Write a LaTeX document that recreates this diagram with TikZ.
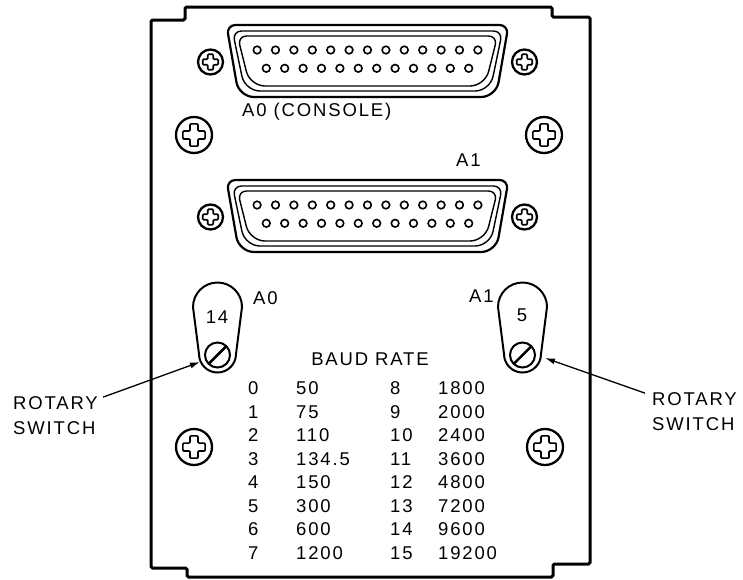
\documentclass[tikz,border=0pt]{standalone}
\usepackage{fontspec}
\setmainfont{Liberation Sans}[LetterSpace=10]
\usetikzlibrary{arrows.meta}

\tikzset{
  panel/.style={line width=3pt, rounded corners=1.5pt},
  shellout/.style={line width=2.2pt},
  shell/.style={line width=1.4pt},
  pin/.style={line width=1.6pt},
  screwhead/.style={line width=2.3pt},
  slot/.style={line width=1.6pt, rounded corners=1pt},
  lbl/.style={font=\fontsize{18.5}{20}\selectfont, inner sep=0pt},
  pointer/.style={line width=1.3pt, -{Latex[length=10pt,width=6pt]}},
}

% x, y, radius of a cross head screw
\newcommand\crossscrew[3]{%
  \begin{scope}[shift={(#1,#2)}, scale=#3]
    \draw[screwhead] (0,0) circle (1);
    \draw[slot] (0.22,-0.62) -- (0.22,-0.22) -- (0.62,-0.22) -- (0.62,0.22) -- (0.22,0.22) -- (0.22,0.62)
      -- (-0.22,0.62) -- (-0.22,0.22) -- (-0.62,0.22) -- (-0.62,-0.22) -- (-0.22,-0.22) -- (-0.22,-0.62) -- cycle;
  \end{scope}}

% inset of the D shell
\newcommand\dshell[1]{%
  \draw[rounded corners=9pt] ({226.5+#1},{25+#1}) -- ({508.5-#1},{25+#1})
    [rounded corners=15pt] -- ({496-#1},{97-#1}) -- ({239+#1},{97-#1}) [rounded corners=9pt] -- cycle;}

% centre x of a rotary switch
\newcommand\rotsw[1]{%
  \draw[line width=2pt] ({#1-24.5},307) arc[start angle=180, end angle=360, radius=24.5]
    -- ({#1+18.5},354) arc[start angle=0, end angle=180, radius=18.5] -- cycle;
  \draw[line width=2pt] (#1,355) circle (12.5);
  \draw[line width=2.5pt] ({#1-8.5},363.5) -- ({#1+8.5},346.5);}

\begin{document}
\begin{tikzpicture}[x=1pt, y=-1pt]
%\draw[help lines, color=gray!30] (0,0) grid[step=50] (743,579);
\useasboundingbox (0,0) rectangle (743,579);

% panel outline
\draw[panel] (185,7) -- (552,7) -- (552,17) -- (590,17) -- (590,564) -- (553,564) -- (553,577)
  -- (187,577) -- (187,568) -- (151,568) -- (151,20) -- (185,20) -- cycle;

% the two D connectors
\foreach \dy in {0,155} {
  \begin{scope}[shift={(0,\dy)}]
    \begin{scope}[shellout]
      \dshell{0}
    \end{scope}
    \begin{scope}[shell]
      \dshell{6}
      \dshell{11}
    \end{scope}
    \foreach \i in {0,...,12}
      \draw[pin] ({367.5+(\i-6)*18.4},50) circle (3.8);
    \foreach \i in {0,...,11}
      \draw[pin] ({367.5+(\i-5.5)*18.4},68.3) circle (3.8);
    \crossscrew{210.5}{62}{12.5}
    \crossscrew{524.5}{62}{12.5}
  \end{scope}
}
\node[lbl, anchor=base west] (conA) at (242,116) {A0 (CONSOLE)};
\node[lbl, anchor=base west] (conB) at (456,166) {A1};

% mounting screws
\crossscrew{194}{135}{18}
\crossscrew{544}{135}{18}
\crossscrew{194}{447}{18}
\crossscrew{545}{447}{18}

% rotary switches
\rotsw{217.5}
\rotsw{522.5}
\node[lbl] (setA) at (217,317) {14};
\node[lbl] (setB) at (522,315) {5};
\node[lbl, anchor=base west] (swA) at (253,304) {A0};
\node[lbl, anchor=base west] (swB) at (469,302) {A1};

\node[lbl, anchor=base west] (rotA) at (13,409.5) {ROTARY};
\node[lbl, anchor=base west] (swtA) at (13,434.5) {SWITCH};
\node[lbl, anchor=base west] (rotB) at (652,405.5) {ROTARY};
\node[lbl, anchor=base west] (swtB) at (652,430.5) {SWITCH};
\coordinate (tipA) at (200,362);
\coordinate (tipB) at (545,358);
\draw[pointer] ([xshift=5pt,yshift=6pt]rotA.east) -- (tipA);
\draw[pointer] ([xshift=-7pt,yshift=6pt]rotB.west) -- (tipB);

% baud rate table
\node[lbl, anchor=base] (baud) at (370,365) {BAUD RATE};
\foreach \n/\r/\m/\s [count=\k from 0] in {0/50/8/1800, 1/75/9/2000, 2/110/10/2400, 3/134.5/11/3600,
    4/150/12/4800, 5/300/13/7200, 6/600/14/9600, 7/1200/15/19200} {
  \node[lbl, anchor=base west] (code\k) at (248,{394.5+23.5*\k}) {\n};
  \node[lbl, anchor=base west] (rate\k) at (296,{394.5+23.5*\k}) {\r};
  \node[lbl, anchor=base west] (codeb\k) at (390,{394.5+23.5*\k}) {\m};
  \node[lbl, anchor=base west] (rateb\k) at (438,{394.5+23.5*\k}) {\s};
}
\end{tikzpicture}
\end{document}
